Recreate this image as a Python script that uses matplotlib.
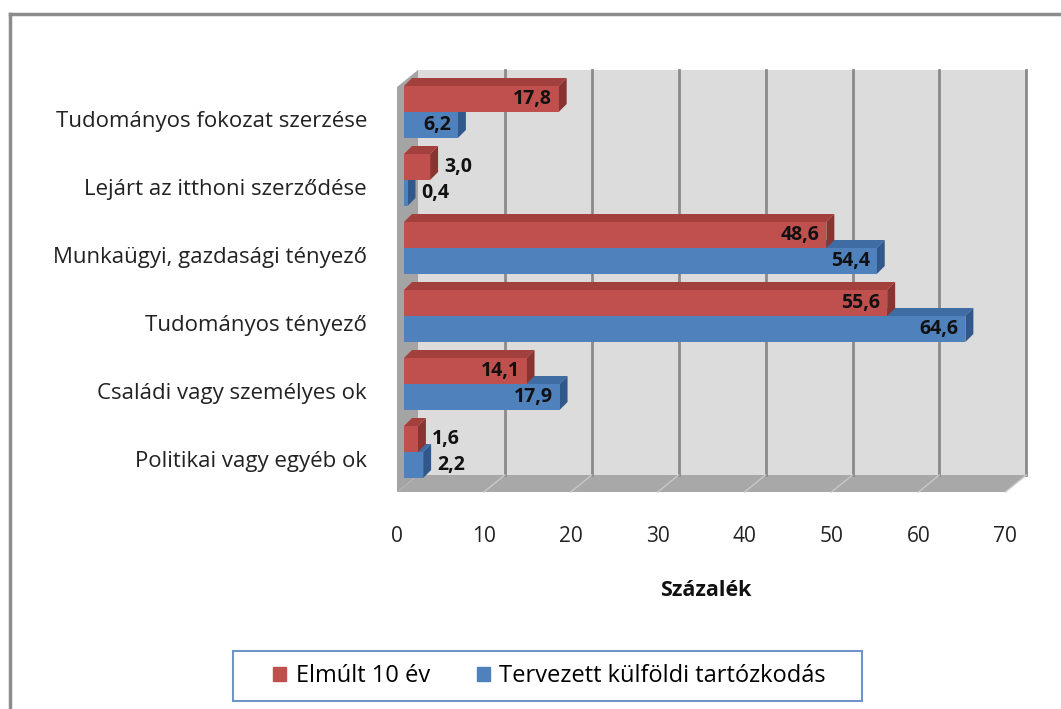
import matplotlib.pyplot as plt
from matplotlib.patches import Polygon, Rectangle
from matplotlib.lines import Line2D

plt.rcParams['font.family'] = ['Open Sans', 'DejaVu Sans']

categories = ["Tudományos fokozat szerzése", "Lejárt az itthoni szerződése",
              "Munkaügyi, gazdasági tényező", "Tudományos tényező",
              "Családi vagy személyes ok", "Politikai vagy egyéb ok"]
elmult = [17.8, 3.0, 48.6, 55.6, 14.1, 1.6]
tervezett = [6.2, 0.4, 54.4, 64.6, 17.9, 2.2]
xticks = [0, 10, 20, 30, 40, 50, 60, 70]
series_names = ["Elmúlt 10 év", "Tervezett külföldi tartózkodás"]

# colours (face, top, side)
red = ("#c0504d", "#a3403d", "#8a3432")
blue = ("#4f81bd", "#3f6ca3", "#31588a")

# pixel scale helpers: x in percent, y in category units
px_x = 8.69
px_y = 68.0
W, H = 1061, 709

fig = plt.figure(figsize=(W / 100, H / 100), dpi=100)
ax = fig.add_axes([0, 0, 1, 1])
ax.set_xlim(-397 / px_x, (W - 397) / px_x)
ax.set_ylim((462 - H) / px_y, 462 / px_y)
ax.axis("off")

# depth vectors
dep_x, dep_y = 21 / px_x, 17 / px_y          # whole chart depth
off_x, off_y = 7 / px_x, 10 / px_y           # bars front face shift
bd_x, bd_y = 8 / px_x, 8 / px_y              # bar depth
xmax = xticks[-1]
floor_y = (462 - 492) / px_y
top_y = (462 - 70) / px_y

# walls
ax.add_patch(Polygon([(dep_x, floor_y + dep_y), (xmax + dep_x, floor_y + dep_y),
                      (xmax + dep_x, top_y), (dep_x, top_y)],
                     facecolor="#dcdcdc", edgecolor="none", zorder=1))
ax.add_patch(Polygon([(0, floor_y), (dep_x, floor_y + dep_y), (dep_x, top_y),
                      (0, top_y - dep_y)], facecolor="#a4a4a4", edgecolor="none", zorder=1))
ax.add_patch(Polygon([(0, floor_y), (xmax, floor_y), (xmax + dep_x, floor_y + dep_y),
                      (dep_x, floor_y + dep_y)], facecolor="#a8a8a8", edgecolor="none", zorder=1))
for t in xticks[1:]:
    ax.plot([t + dep_x, t + dep_x], [floor_y + dep_y, top_y], color="#8a8a8a", lw=2, zorder=2)
    ax.plot([t, t + dep_x], [floor_y, floor_y + dep_y], color="#c8c8c8", lw=1, zorder=2)
for t in xticks:
    ax.text(t, (462 - 537) / px_y, str(t), ha="center", va="center", fontsize=15, color="#222222")

ax.text(35.5, (462 - 590) / px_y, "Százalék", ha="center", va="center",
        fontsize=15.5, fontweight="bold", color="#111111")

# bars
h = 26 / px_y
n = len(categories)


def bar3d(x0, x1, yc, cols):
    yb, yt = yc - h / 2, yc + h / 2
    ax.add_patch(Polygon([(x0, yt), (x1, yt), (x1 + bd_x, yt + bd_y), (x0 + bd_x, yt + bd_y)],
                         facecolor=cols[1], edgecolor="none", zorder=3))
    ax.add_patch(Polygon([(x1, yb), (x1, yt), (x1 + bd_x, yt + bd_y), (x1 + bd_x, yb + bd_y)],
                         facecolor=cols[2], edgecolor="none", zorder=3))
    ax.add_patch(Rectangle((x0, yb), x1 - x0, h, facecolor=cols[0], edgecolor="none", zorder=3))


def value_label(v, yc):
    s = f"{v:.1f}".replace(".", ",")
    if v > 5:
        ax.text(v + off_x - 0.8, yc, s, ha="right", va="center", fontsize=14,
                fontweight="bold", color="#111111", zorder=4)
    else:
        ax.text(v + off_x + bd_x + 0.7, yc, s, ha="left", va="center", fontsize=14,
                fontweight="bold", color="#111111", zorder=4)


for k in range(n - 1, -1, -1):
    i = n - 1 - k
    yc = i + off_y
    bar3d(off_x, tervezett[k] + off_x, yc - h / 2, blue)
    bar3d(off_x, elmult[k] + off_x, yc + h / 2, red)
    value_label(tervezett[k], yc - h / 2)
    value_label(elmult[k], yc + h / 2)
    ax.text(-3.45, i, categories[k], ha="right", va="center", fontsize=16, color="#222222")

# legend (frame drawn separately to match the wide Excel box)
handles = [Rectangle((0, 0), 1, 1, color=red[0]), Rectangle((0, 0), 1, 1, color=blue[0])]
leg = fig.legend(handles, series_names, loc="center", bbox_to_anchor=(0.518, 0.0465),
                 ncol=2, frameon=False, fontsize=17, handlelength=0.55,
                 handleheight=0.55, handletextpad=0.4, columnspacing=2.0)
fig.add_artist(Rectangle((233 / W, 1 - 701 / H), (862 - 233) / W, 50 / H,
                         transform=fig.transFigure, facecolor="none",
                         edgecolor="#6f95c8", lw=1.5))

# outer chart frame (top and left edges)
fig.add_artist(Line2D([10 / W, 1], [1 - 14 / H, 1 - 14 / H], color="#8c8c8c", lw=2.5))
fig.add_artist(Line2D([10 / W, 10 / W], [0, 1 - 14 / H], color="#8c8c8c", lw=2.5))

fig.savefig("out.png", dpi=100)
